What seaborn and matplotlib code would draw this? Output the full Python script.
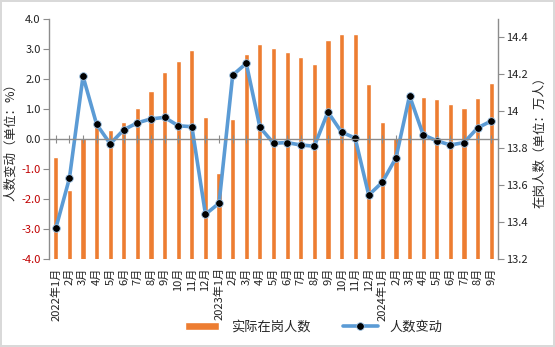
import matplotlib
matplotlib.use("Agg")
import matplotlib.pyplot as plt
import seaborn as sns
import pandas as pd
import numpy as np
from matplotlib.ticker import FuncFormatter, FixedLocator

months = [
    "2022-01", "2022-02", "2022-03", "2022-04", "2022-05", "2022-06",
    "2022-07", "2022-08", "2022-09", "2022-10", "2022-11", "2022-12",
    "2023-01", "2023-02", "2023-03", "2023-04", "2023-05", "2023-06",
    "2023-07", "2023-08", "2023-09", "2023-10", "2023-11", "2023-12",
    "2024-01", "2024-02", "2024-03", "2024-04", "2024-05", "2024-06",
    "2024-07", "2024-08", "2024-09",
]
tick_labels = [
    "2022年1月", "2月", "3月", "4月", "5月", "6月", "7月", "8月", "9月", "10月", "11月", "12月",
    "2023年1月", "2月", "3月", "4月", "5月", "6月", "7月", "8月", "9月", "10月", "11月", "12月",
    "2024年1月", "2月", "3月", "4月", "5月", "6月", "7月", "8月", "9月",
]
# 实际在岗人数 (万人) — right axis
employed = [
    13.754, 13.574, 13.857, 13.918, 13.898, 13.942, 14.018, 14.110, 14.212, 14.272, 14.333, 13.969,
    13.667, 13.958, 14.310, 14.364, 14.342, 14.321, 14.294, 14.256, 14.386, 14.418, 14.418, 14.147,
    13.942, 13.855, 14.080, 14.077, 14.066, 14.039, 14.018, 14.072, 14.153,
]
# 人数变动 (%) — left axis
change = [
    -2.98, -1.31, 2.09, 0.49, -0.16, 0.31, 0.54, 0.67, 0.72, 0.44, 0.41, -2.51,
    -2.14, 2.13, 2.52, 0.39, -0.14, -0.12, -0.20, -0.24, 0.90, 0.23, 0.03, -1.87,
    -1.44, -0.63, 1.44, 0.14, -0.06, -0.20, -0.12, 0.37, 0.60,
]

df = pd.DataFrame({"month": months, "idx": np.arange(len(months)),
                   "employed": employed, "change": change})

sns.set_style("white")
plt.rcParams["font.family"] = ["Noto Sans CJK SC", "DejaVu Sans"]

BAR = "#ED7D31"
LINE = "#5B9BD5"
GRAY = "#8c8c8c"

fig = plt.figure(figsize=(5.55, 3.47), dpi=100, facecolor="white",
                 edgecolor="#d9d9d9", linewidth=1.5)
ax = fig.add_axes([49 / 555, 88 / 347, 449 / 555, 240 / 347])
axr = ax.twinx()

sns.barplot(data=df, x="month", y="employed", ax=axr, color=BAR,
            saturation=1, width=0.38, label="实际在岗人数")
sns.lineplot(data=df, x="idx", y="change", ax=ax, color=LINE, linewidth=2.6,
             marker="o", markersize=5.5, markerfacecolor="black",
             markeredgecolor="#9dc3e6", markeredgewidth=0.6, label="人数变动")

ax.set_zorder(axr.get_zorder() + 1)
ax.patch.set_visible(False)

n = len(months)
ax.set_xlim(-0.5, n - 0.5)
ax.set_ylim(-4.0, 4.0)
axr.set_ylim(13.2, 14.5)

# left axis
ax.set_yticks(np.arange(-4.0, 4.01, 1.0))
ax.yaxis.set_major_formatter(FuncFormatter(lambda v, p: f"{v:.1f}"))
ax.tick_params(axis="y", direction="out", length=4, color=GRAY, labelsize=8, pad=2)
for lab, v in zip(ax.get_yticklabels(), ax.get_yticks()):
    lab.set_color("#C00000" if v < 0 else "#222222")
ax.set_ylabel("人数变动（单位：%）", fontsize=9, labelpad=3)

# right axis
axr.yaxis.set_major_locator(FixedLocator([13.2, 13.4, 13.6, 13.8, 14.0, 14.2, 14.4]))
axr.yaxis.set_major_formatter(FuncFormatter(lambda v, p: f"{v:g}"))
axr.tick_params(axis="y", direction="out", length=4, color=GRAY, labelsize=8,
                pad=2, labelcolor="#222222")
axr.set_ylabel("在岗人数（单位：万人）", fontsize=9, labelpad=4)

# x axis: zero line with ticks on ax, labels at bottom via axr
ax.set_xticks(range(n))
ax.spines["bottom"].set_position(("data", 0))
ax.tick_params(axis="x", direction="inout", length=6, color=GRAY, width=0.8,
               labelbottom=False, bottom=True)
axr.xaxis.set_visible(True)
axr.set_xticks(range(n))
axr.set_xticklabels(tick_labels, va="top")
axr.tick_params(axis="x", bottom=True, labelbottom=True, top=False, labeltop=False,
                length=0, pad=6, labelsize=8, labelrotation=90, labelcolor="#222222")
ax.set_xlabel("")
axr.set_xlabel("")

for a in (ax, axr):
    a.spines["top"].set_visible(False)
for s in ("left", "right", "bottom"):
    ax.spines[s].set_color(GRAY)
    axr.spines[s].set_color(GRAY)
ax.spines["right"].set_visible(False)
axr.spines["left"].set_visible(False)
axr.spines["bottom"].set_visible(False)
ax.spines["left"].set_linewidth(1.0)
axr.spines["right"].set_linewidth(1.0)
ax.spines["bottom"].set_linewidth(1.0)

# legend
h1, l1 = axr.get_legend_handles_labels()
h2, l2 = ax.get_legend_handles_labels()
if ax.get_legend():
    ax.get_legend().remove()
if axr.get_legend():
    axr.get_legend().remove()
fig.legend(h1 + h2, l1 + l2, loc="center", bbox_to_anchor=(0.565, 0.058),
           ncol=2, frameon=False, fontsize=9.5, handlelength=2.6,
           handleheight=0.6, columnspacing=2.5, handletextpad=0.9)

fig.savefig("out.png", dpi=100, facecolor="white", edgecolor="#d9d9d9")
